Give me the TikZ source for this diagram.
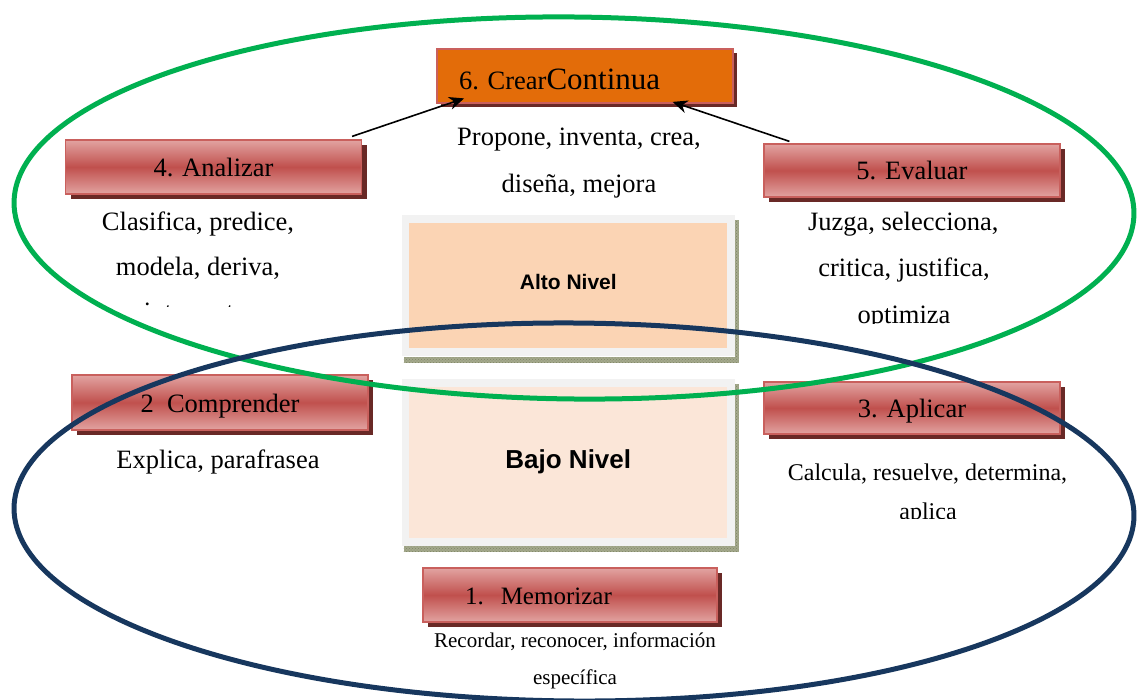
\documentclass[tikz,border=0pt]{standalone}
\usepackage{fontspec}
\setmainfont{Liberation Serif}
\newfontfamily\arialfont{Liberation Sans}
\usetikzlibrary{shadows,arrows.meta,calc,patterns}
\definecolor{ellgreen}{HTML}{00B050}
\definecolor{ellblue}{HTML}{17375E}
\definecolor{orangebox}{HTML}{E36C09}
\definecolor{redmid}{HTML}{C0504D}
\definecolor{redlt}{HTML}{E2A3A1}
\definecolor{redborder}{HTML}{C9605D}
\definecolor{redshadow}{HTML}{692926}
\definecolor{peach}{HTML}{FBD4B4}
\definecolor{peachlt}{HTML}{FBE6D8}
\definecolor{frame}{HTML}{F2F2F2}
\definecolor{hatch}{HTML}{A4A98C}
\definecolor{hatchdk}{HTML}{7E8466}
\newcommand\fsA{\fontsize{26.5}{30}\selectfont}
\newcommand\fsB{\fontsize{24}{28}\selectfont}
\newcommand\fsC{\fontsize{21}{25}\selectfont}
\begin{document}
\begin{tikzpicture}[x=1pt,y=-1pt,
  redbox/.style={rectangle, inner sep=0pt, minimum width=296pt, minimum height=54pt,
    top color=redlt, bottom color=redlt, middle color=redmid,
    draw=redborder, line width=1.2pt,
    drop shadow={shadow xshift=5pt, shadow yshift=-5pt, opacity=1, fill=redshadow},
    font=\fsA, text height=19pt, text depth=0pt},
  levelbox/.style={rectangle, inner sep=0pt, outer sep=0pt, minimum width=325.7pt, draw=frame, line width=7.7pt},
  hatchfill/.style={fill=hatch, postaction={pattern=crosshatch dots, pattern color=hatchdk}},
  desc/.style={anchor=base, inner sep=0pt, font=\fsA},
  ell/.style={line width=5pt},
  arr/.style={line width=1.6pt, -{Stealth[length=15pt,width=13pt]}}
]
\useasboundingbox (0,0) rectangle (1137,700);
\clip (0,0) rectangle (1137,700);

% level boxes
\node[levelbox, fill=peach, minimum height=133.3pt, text height=15pt, text depth=7.6pt,
      font=\arialfont\bfseries\fontsize{21}{24}\selectfont] (alto) at (568.3,285.5) {Alto Nivel};
\node[levelbox, fill=peachlt, minimum height=158.9pt, text height=18.5pt, text depth=8pt,
      font=\arialfont\bfseries\fontsize{26}{30}\selectfont] (bajo) at (568.3,462.75) {Bajo Nivel};
% hatched shadows of the level boxes
\path[hatchfill] ($(alto.north east)+(3.85,1.3)$) rectangle ($(alto.south east)+(7.35,10.8)$);
\path[hatchfill] ($(alto.south west)+(-1.5,4.85)$) rectangle ($(alto.south east)+(7.35,10.8)$);
\path[hatchfill] ($(bajo.north east)+(3.85,0.7)$) rectangle ($(bajo.south east)+(7.35,9.5)$);
\path[hatchfill] ($(bajo.south west)+(-1.5,3.85)$) rectangle ($(bajo.south east)+(7.35,9.5)$);

% red boxes
\node[redbox] (ana) at (213.5,167) {4. Analizar};
\node[redbox, minimum height=53pt] (eva) at (912,170.5) {5. Evaluar};
\node[redbox, minimum height=55pt] (comp) at (220,402.5) {2\ \ Comprender};
\node[redbox, minimum height=52pt] (apl) at (912,408) {3. Aplicar};
\node[redbox, minimum width=294pt] (mem) at (570,595)
  {\makebox[294pt][l]{\hspace{42pt}\fontsize{25}{28}\selectfont 1.\hspace{17pt}Memorizar}};

% crear box
\node[rectangle, inner sep=0pt, minimum width=296pt, minimum height=54pt,
      fill=orangebox, draw=redborder, line width=1.8pt,
      drop shadow={shadow xshift=4pt, shadow yshift=-4pt, opacity=1, fill=redshadow},
      text height=28pt, text depth=0pt] (crear) at (585,76)
  {\makebox[296pt][l]{\hspace{22pt}\fsA 6. Crear\fontsize{31}{34}\selectfont Continua}};

% descriptions
\node[desc] (d6a) at (579,146) {Propone, inventa, crea,};
\node[desc] (d6b) at (579,192.7) {diseña, mejora};
\node[desc] (d4a) at (198,230.7) {Clasifica, predice,};
\node[desc] (d4b) at (198,276) {modela, deriva,};
\begin{scope}
  \clip (0,0) rectangle (1137,306.5);
  \node[desc] (d4c) at (198,321) {interpreta,};
\end{scope}
\node[desc] (d5a) at (903.3,230.7) {Juzga, selecciona,};
\node[desc] (d5b) at (904,277) {critica, justifica,};
\begin{scope}
  \clip (0,0) rectangle (1137,323.5);
  \node[desc] (d5c) at (904,323.6) {optimiza};
\end{scope}
\node[desc] (d2a) at (218,468) {Explica, parafrasea};
\node[desc, font=\fsB] (d3a) at (927.5,480) {Calcula, resuelve, determina,};
\begin{scope}
  \clip (0,0) rectangle (1137,518.5);
  \node[desc, font=\fsB] (d3b) at (928,519.5) {aplica};
\end{scope}
\node[desc, font=\fsC] (d1a) at (575,647) {Recordar, reconocer, información};
\node[desc, font=\fsC] (d1b) at (575,684) {específica};

% ellipses
\draw[ell, ellgreen, rotate around={-0.6:(574,208)}] (574,208) ellipse (560 and 191);
\draw[ell, ellblue, rotate around={-0.4:(574,512)}] (574,512) ellipse (560 and 189);

% arrows
\draw[arr] ($(ana.north east)+(-10,-3)$) -- ($(crear.south west)+(28,-5.5)$);
\draw[arr] ($(eva.north west)+(26,-2)$) -- ($(crear.south east)+(-61.3,-2)$);
\end{tikzpicture}
\end{document}
